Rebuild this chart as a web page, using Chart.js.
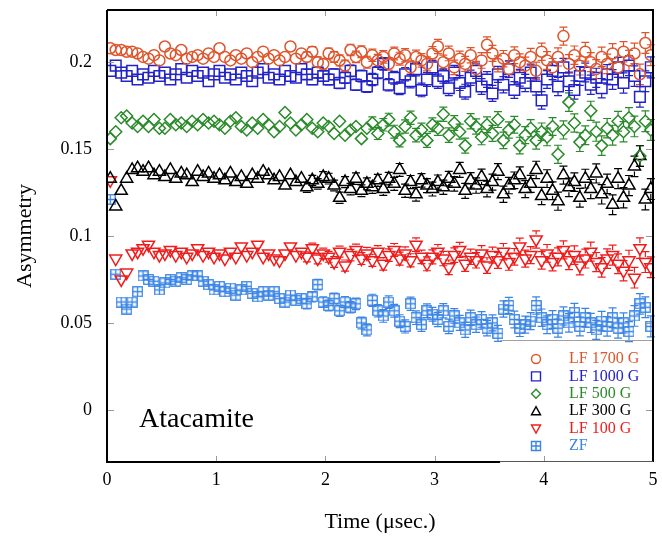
<!DOCTYPE html>
<html>
<head>
<meta charset="utf-8">
<script src="https://cdn.jsdelivr.net/npm/chart.js@4.4.1/dist/chart.umd.min.js"></script>
<style>
  html, body { margin: 0; padding: 0; background: #fff; }
  #wrap { width: 662px; height: 538px; }
</style>
</head>
<body>
<div id="wrap"><canvas id="muChart" width="662" height="538"></canvas></div>
<script>
// time bins (usec)
const timeBins = [
  0.03, 0.08, 0.13, 0.18, 0.23, 0.28, 0.33, 0.38, 0.43, 0.48,
  0.53, 0.58, 0.63, 0.68, 0.73, 0.78, 0.83, 0.88, 0.93, 0.98,
  1.03, 1.08, 1.13, 1.18, 1.23, 1.28, 1.33, 1.38, 1.43, 1.48,
  1.53, 1.58, 1.63, 1.68, 1.73, 1.78, 1.83, 1.88, 1.93, 1.98,
  2.03, 2.08, 2.13, 2.18, 2.23, 2.28, 2.33, 2.38, 2.43, 2.48,
  2.53, 2.58, 2.63, 2.68, 2.73, 2.78, 2.83, 2.88, 2.93, 2.98,
  3.03, 3.08, 3.13, 3.18, 3.23, 3.28, 3.33, 3.38, 3.43, 3.48,
  3.53, 3.58, 3.63, 3.68, 3.73, 3.78, 3.83, 3.88, 3.93, 3.98,
  4.03, 4.08, 4.13, 4.18, 4.23, 4.28, 4.33, 4.38, 4.43, 4.48,
  4.53, 4.58, 4.63, 4.68, 4.73, 4.78, 4.83, 4.88, 4.93, 4.98
];

const lf1700 = [
  0.208, 0.207, 0.207, 0.206, 0.206, 0.205, 0.203, 0.202, 0.204, 0.201,
  0.209, 0.205, 0.204, 0.207, 0.202, 0.203, 0.204, 0.202, 0.205, 0.203,
  0.208, 0.203, 0.201, 0.204, 0.202, 0.205, 0.200, 0.203, 0.206, 0.202,
  0.204, 0.201, 0.203, 0.209, 0.202, 0.205, 0.203, 0.206, 0.200, 0.199,
  0.205, 0.203, 0.201, 0.198, 0.207, 0.203, 0.206, 0.200, 0.204, 0.201,
  0.203, 0.199, 0.205, 0.202, 0.204, 0.197, 0.203, 0.201, 0.199, 0.205,
  0.209, 0.200, 0.205, 0.197, 0.202, 0.199, 0.204, 0.196, 0.201, 0.210,
  0.205, 0.199, 0.202, 0.196, 0.204, 0.200, 0.198, 0.203, 0.195, 0.206,
  0.201, 0.197, 0.203, 0.215, 0.199, 0.204, 0.198, 0.206, 0.200, 0.196,
  0.203, 0.199, 0.205, 0.197, 0.206, 0.201, 0.205, 0.193, 0.211, 0.204
];

const lf1000 = [
  0.195, 0.198, 0.194, 0.192, 0.195, 0.190, 0.193, 0.191, 0.195, 0.192,
  0.194, 0.190, 0.193, 0.196, 0.191, 0.195, 0.192, 0.194, 0.189, 0.193,
  0.195, 0.191, 0.193, 0.190, 0.194, 0.192, 0.189, 0.194, 0.196, 0.191,
  0.193, 0.190, 0.195, 0.192, 0.191, 0.196, 0.193, 0.190, 0.194, 0.192,
  0.190, 0.193, 0.188, 0.191, 0.195, 0.187, 0.192, 0.186, 0.190, 0.194,
  0.199, 0.187, 0.191, 0.185, 0.193, 0.189, 0.196, 0.184, 0.190, 0.197,
  0.189, 0.192, 0.185, 0.194, 0.188, 0.183, 0.191, 0.195, 0.186, 0.190,
  0.182, 0.193, 0.187, 0.196, 0.184, 0.191, 0.188, 0.194, 0.186, 0.178,
  0.190, 0.195, 0.186, 0.197, 0.189, 0.184, 0.192, 0.194, 0.187, 0.191,
  0.185, 0.193, 0.190, 0.197, 0.188, 0.198, 0.192, 0.180, 0.189, 0.197
];

const lf500 = [
  0.156, 0.160, 0.168, 0.169, 0.165, 0.163, 0.166, 0.163, 0.167, 0.162,
  0.162, 0.167, 0.164, 0.165, 0.163, 0.166, 0.164, 0.167, 0.165, 0.166,
  0.164, 0.162, 0.166, 0.168, 0.163, 0.161, 0.165, 0.162, 0.167, 0.164,
  0.160, 0.163, 0.171, 0.165, 0.161, 0.164, 0.167, 0.162, 0.160, 0.165,
  0.163, 0.159, 0.166, 0.158, 0.161, 0.163, 0.156, 0.162, 0.165, 0.159,
  0.164, 0.167, 0.160, 0.155, 0.163, 0.168, 0.158, 0.161, 0.155, 0.164,
  0.162, 0.170, 0.158, 0.165, 0.160, 0.152, 0.166, 0.163, 0.157, 0.164,
  0.159, 0.167, 0.155, 0.161, 0.164, 0.152, 0.158, 0.162, 0.155, 0.160,
  0.157, 0.163, 0.147, 0.161, 0.177, 0.165, 0.154, 0.158, 0.172, 0.160,
  0.152, 0.162, 0.158, 0.166, 0.160, 0.168, 0.163, 0.146, 0.166, 0.161
];

const lf300 = [
  0.133, 0.117, 0.126, 0.133, 0.138, 0.139, 0.137, 0.139, 0.135, 0.137,
  0.134, 0.138, 0.133, 0.136, 0.135, 0.131, 0.137, 0.134, 0.136, 0.133,
  0.135, 0.132, 0.136, 0.131, 0.134, 0.130, 0.135, 0.133, 0.137, 0.135,
  0.132, 0.134, 0.129, 0.135, 0.131, 0.133, 0.128, 0.132, 0.130, 0.134,
  0.133, 0.129, 0.122, 0.131, 0.127, 0.133, 0.126, 0.130, 0.128, 0.132,
  0.127, 0.133, 0.130, 0.138, 0.126, 0.131, 0.124, 0.132, 0.129, 0.127,
  0.131, 0.128, 0.133, 0.130, 0.138, 0.126, 0.132, 0.129, 0.134, 0.127,
  0.131, 0.137, 0.124, 0.129, 0.132, 0.135, 0.127, 0.130, 0.138, 0.123,
  0.133, 0.126, 0.120, 0.135, 0.128, 0.131, 0.122, 0.133, 0.127, 0.136,
  0.124, 0.130, 0.118, 0.133, 0.122, 0.129, 0.140, 0.146, 0.121, 0.127
];

const lf100 = [
  0.132, 0.087, 0.075, 0.079, 0.090, 0.091, 0.093, 0.095, 0.091, 0.089,
  0.090, 0.092, 0.089, 0.091, 0.088, 0.090, 0.093, 0.089, 0.091, 0.088,
  0.090, 0.087, 0.091, 0.088, 0.094, 0.089, 0.091, 0.095, 0.088, 0.090,
  0.087, 0.086, 0.090, 0.094, 0.089, 0.091, 0.088, 0.093, 0.087, 0.090,
  0.088, 0.085, 0.091, 0.083, 0.089, 0.092, 0.087, 0.090, 0.086, 0.091,
  0.084, 0.089, 0.092, 0.087, 0.090, 0.086, 0.095, 0.088, 0.084, 0.088,
  0.091, 0.087, 0.082, 0.089, 0.092, 0.084, 0.088, 0.086, 0.090, 0.083,
  0.089, 0.086, 0.091, 0.085, 0.088, 0.094, 0.087, 0.089, 0.098, 0.086,
  0.090, 0.085, 0.088, 0.092, 0.086, 0.089, 0.083, 0.087, 0.091, 0.085,
  0.082, 0.087, 0.089, 0.084, 0.080, 0.086, 0.076, 0.093, 0.085, 0.082
];

const zf = [
  0.121, 0.078, 0.062, 0.058, 0.062, 0.068, 0.077, 0.075, 0.074, 0.069,
  0.073, 0.075, 0.074, 0.076, 0.075, 0.077, 0.077, 0.074, 0.072, 0.069,
  0.071, 0.068, 0.070, 0.066, 0.069, 0.071, 0.067, 0.065, 0.068, 0.066,
  0.068, 0.064, 0.062, 0.066, 0.063, 0.064, 0.061, 0.065, 0.072, 0.062,
  0.060, 0.064, 0.057, 0.062, 0.059, 0.061, 0.050, 0.046, 0.063, 0.057,
  0.054, 0.062, 0.057, 0.051, 0.048, 0.061, 0.053, 0.049, 0.057, 0.055,
  0.052, 0.057, 0.048, 0.054, 0.050, 0.046, 0.053, 0.049, 0.052, 0.047,
  0.050, 0.044, 0.058, 0.060, 0.052, 0.047, 0.049, 0.051, 0.060, 0.053,
  0.049, 0.052, 0.047, 0.054, 0.050, 0.056, 0.048, 0.053, 0.050, 0.046,
  0.051, 0.048, 0.053, 0.047, 0.050, 0.045, 0.054, 0.061, 0.059, 0.048
];

// statistical error per time bin
const errBars = [
  0.0014, 0.0014, 0.0015, 0.0015, 0.0015, 0.0016, 0.0016, 0.0016, 0.0017, 0.0017,
  0.0017, 0.0018, 0.0018, 0.0018, 0.0019, 0.0019, 0.0019, 0.0020, 0.0020, 0.0021,
  0.0021, 0.0021, 0.0022, 0.0022, 0.0023, 0.0023, 0.0024, 0.0024, 0.0025, 0.0025,
  0.0026, 0.0026, 0.0027, 0.0027, 0.0028, 0.0028, 0.0029, 0.0029, 0.0030, 0.0030,
  0.0031, 0.0031, 0.0032, 0.0032, 0.0033, 0.0033, 0.0034, 0.0034, 0.0035, 0.0035,
  0.0036, 0.0036, 0.0037, 0.0037, 0.0038, 0.0038, 0.0039, 0.0039, 0.0040, 0.0040,
  0.0041, 0.0041, 0.0042, 0.0042, 0.0043, 0.0043, 0.0044, 0.0044, 0.0045, 0.0045,
  0.0046, 0.0046, 0.0047, 0.0047, 0.0048, 0.0048, 0.0049, 0.0049, 0.0050, 0.0050,
  0.0051, 0.0051, 0.0052, 0.0052, 0.0053, 0.0053, 0.0054, 0.0054, 0.0055, 0.0055,
  0.0056, 0.0056, 0.0057, 0.0057, 0.0058, 0.0058, 0.0059, 0.0059, 0.0060, 0.0060
];

const xTicks = [0, 1, 2, 3, 4, 5];
const yTicks = [0, 0.05, 0.1, 0.15, 0.2];
const yTickLabels = ['0', '0.05', '0.1', '0.15', '0.2'];
const seriesNames = ['LF 1700 G', 'LF 1000 G', 'LF 500 G', 'LF 300 G', 'LF 100 G', 'ZF'];

const serif = "'Liberation Serif', 'Times New Roman', serif";
const colors = ['#de552c', '#2222c8', '#2a8a2a', '#000000', '#f01c1c', '#3a84e6'];

// square with a plus inside, used for ZF
function boxPlus(size, color) {
    const c = document.createElement('canvas');
    c.width = size; c.height = size;
    const g = c.getContext('2d');
    g.strokeStyle = color;
    g.lineWidth = 1.3;
    g.strokeRect(0.75, 0.75, size - 1.5, size - 1.5);
    g.beginPath();
    g.moveTo(size / 2, 1); g.lineTo(size / 2, size - 1);
    g.moveTo(1, size / 2); g.lineTo(size - 1, size / 2);
    g.stroke();
    return c;
}

function toPoints(vals) {
    return vals.map((v, i) => ({ x: timeBins[i], y: v }));
}

const markerStyles = [
    { pointStyle: 'circle', radius: 5.5, rotation: 0, half: 5 },
    { pointStyle: 'rect', radius: 7.5, rotation: 0, half: 5 },
    { pointStyle: 'rectRot', radius: 6, rotation: 0, half: 6 },
    { pointStyle: 'triangle', radius: 7, rotation: 0, half: 5 },
    { pointStyle: 'triangle', radius: 7, rotation: 180, half: 5 },
    { pointStyle: boxPlus(11, colors[5]), radius: 5.5, rotation: 0, half: 5 }
];

const seriesValues = [lf1700, lf1000, lf500, lf300, lf100, zf];

const datasets = seriesValues.map((vals, i) => ({
    label: seriesNames[i],
    data: toPoints(vals),
    errors: errBars,
    markerHalf: markerStyles[i].half,
    showLine: false,
    pointStyle: markerStyles[i].pointStyle,
    pointRadius: markerStyles[i].radius,
    pointRotation: markerStyles[i].rotation,
    pointBorderColor: colors[i],
    pointBackgroundColor: 'rgba(0,0,0,0)',
    pointBorderWidth: 1.5,
    borderColor: colors[i]
}));

// vertical error bars with caps, only the part outside the marker
const errorBarPlugin = {
    id: 'errorBars',
    beforeDatasetsDraw(chart) {
        const ctx = chart.ctx;
        const ys = chart.scales.y;
        ctx.save();
        ctx.lineWidth = 1.2;
        chart.data.datasets.forEach((ds, di) => {
            const meta = chart.getDatasetMeta(di);
            ctx.strokeStyle = ds.borderColor;
            meta.data.forEach((pt, i) => {
                const v = ds.data[i].y;
                const e = ds.errors[i];
                const yHi = ys.getPixelForValue(v + e);
                const yLo = ys.getPixelForValue(v - e);
                const h = ds.markerHalf;
                ctx.beginPath();
                if (pt.y - yHi > h) {
                    ctx.moveTo(pt.x, pt.y - h); ctx.lineTo(pt.x, yHi);
                    ctx.moveTo(pt.x - 4, yHi); ctx.lineTo(pt.x + 4, yHi);
                }
                if (yLo - pt.y > h) {
                    ctx.moveTo(pt.x, pt.y + h); ctx.lineTo(pt.x, yLo);
                    ctx.moveTo(pt.x - 4, yLo); ctx.lineTo(pt.x + 4, yLo);
                }
                ctx.stroke();
            });
        });
        ctx.restore();
    }
};

function drawMarker(ctx, idx, x, y, r) {
    ctx.beginPath();
    if (idx === 0) {
        ctx.arc(x, y, r, 0, Math.PI * 2);
    } else if (idx === 1) {
        ctx.rect(x - r, y - r, 2 * r, 2 * r);
    } else if (idx === 2) {
        ctx.moveTo(x, y - r); ctx.lineTo(x + r, y); ctx.lineTo(x, y + r); ctx.lineTo(x - r, y); ctx.closePath();
    } else if (idx === 3) {
        ctx.moveTo(x, y - r); ctx.lineTo(x + r, y + r * 0.8); ctx.lineTo(x - r, y + r * 0.8); ctx.closePath();
    } else if (idx === 4) {
        ctx.moveTo(x, y + r); ctx.lineTo(x + r, y - r * 0.8); ctx.lineTo(x - r, y - r * 0.8); ctx.closePath();
    } else {
        ctx.rect(x - r, y - r, 2 * r, 2 * r);
        ctx.moveTo(x, y - r); ctx.lineTo(x, y + r);
        ctx.moveTo(x - r, y); ctx.lineTo(x + r, y);
    }
    ctx.stroke();
}

// frame, inward ticks, legend and sample label
const framePlugin = {
    id: 'frame',
    afterDraw(chart) {
        const ctx = chart.ctx;
        const xs = chart.scales.x, ys = chart.scales.y;
        const { left, right, top, bottom } = chart.chartArea;
        ctx.save();

        ctx.strokeStyle = '#9a9a9a';
        ctx.lineWidth = 1;
        ctx.beginPath();
        xTicks.forEach(v => {
            const px = Math.round(xs.getPixelForValue(v)) + 0.5;
            ctx.moveTo(px, bottom); ctx.lineTo(px, bottom - 6);
            ctx.moveTo(px, top); ctx.lineTo(px, top + 6);
        });
        yTicks.forEach(v => {
            const py = Math.round(ys.getPixelForValue(v)) + 0.5;
            ctx.moveTo(left, py); ctx.lineTo(left + 7, py);
            ctx.moveTo(right, py); ctx.lineTo(right - 7, py);
        });
        ctx.stroke();

        // legend box top edge
        const boxX = xs.getPixelForValue(3.6);
        const boxY = Math.round(ys.getPixelForValue(0.04)) + 0.5;
        ctx.strokeStyle = '#a0a0a0';
        ctx.beginPath();
        ctx.moveTo(boxX, boxY); ctx.lineTo(right, boxY);
        ctx.stroke();

        // frame
        ctx.strokeStyle = '#000';
        ctx.lineWidth = 2;
        ctx.beginPath();
        ctx.moveTo(left, top); ctx.lineTo(left, bottom); ctx.lineTo(boxX, bottom);
        ctx.moveTo(left, top); ctx.lineTo(right, top); ctx.lineTo(right, bottom);
        ctx.stroke();
        ctx.strokeStyle = '#555';
        ctx.lineWidth = 1;
        ctx.beginPath();
        ctx.moveTo(boxX, bottom - 0.5); ctx.lineTo(right, bottom - 0.5);
        ctx.stroke();

        // legend
        ctx.font = '16px ' + serif;
        ctx.textBaseline = 'middle';
        ctx.textAlign = 'left';
        ctx.lineWidth = 1.4;
        seriesNames.forEach((name, i) => {
            const y = 359 + i * 17.4;
            ctx.strokeStyle = colors[i];
            ctx.fillStyle = colors[i];
            drawMarker(ctx, i, 536, y, 4.5);
            ctx.fillText(name, 569, y);
        });

        // sample name
        ctx.fillStyle = '#000';
        ctx.font = '28px ' + serif;
        ctx.textBaseline = 'alphabetic';
        ctx.fillText('Atacamite', left + 32, 427);

        ctx.restore();
    }
};

const muCtx = document.getElementById('muChart').getContext('2d');
new Chart(muCtx, {
    type: 'scatter',
    data: { datasets: datasets },
    options: {
        responsive: false,
        animation: false,
        layout: { padding: { top: 10, right: 8, left: 0, bottom: 0 } },
        plugins: {
            legend: { display: false },
            tooltip: { enabled: false }
        },
        scales: {
            x: {
                type: 'linear',
                min: 0,
                max: 5,
                afterBuildTicks: s => { s.ticks = xTicks.map(v => ({ value: v })); },
                afterFit: s => { s.height = 76; s.paddingLeft = 0; s.paddingRight = 0; },
                grid: { display: false, drawTicks: false },
                border: { display: false },
                ticks: { color: '#000', font: { family: serif, size: 18 }, padding: 7 },
                title: {
                    display: true,
                    text: 'Time (μsec.)',
                    color: '#000',
                    font: { family: serif, size: 22 },
                    padding: { top: 0, bottom: 3 }
                }
            },
            y: {
                type: 'linear',
                min: -0.03,
                max: 0.23,
                afterBuildTicks: s => { s.ticks = yTicks.map(v => ({ value: v })); },
                afterFit: s => { s.width = 107; s.paddingTop = 0; s.paddingBottom = 0; },
                grid: { display: false, drawTicks: false },
                border: { display: false },
                ticks: {
                    color: '#000',
                    font: { family: serif, size: 18 },
                    padding: 15,
                    callback: (v, i) => yTickLabels[i]
                },
                title: {
                    display: true,
                    text: 'Asymmetry',
                    color: '#000',
                    font: { family: serif, size: 22 },
                    padding: { top: 12, bottom: 0 }
                }
            }
        }
    },
    plugins: [errorBarPlugin, framePlugin]
});
</script>
</body>
</html>
